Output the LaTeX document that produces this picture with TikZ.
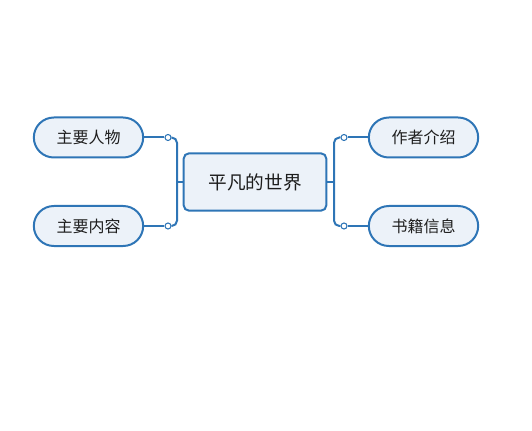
\documentclass[tikz,border=0pt]{standalone}
\usepackage{fontspec}
\newfontfamily\cjk{Noto Sans CJK SC}
\usetikzlibrary{positioning}
\definecolor{edge}{RGB}{46,117,182}
\definecolor{pale}{RGB}{236,242,249}
\definecolor{ink}{RGB}{30,30,30}
\tikzset{
  topic/.style={draw=edge,fill=pale,line width=1.5pt,rounded corners=4pt,
    minimum width=107pt,minimum height=43pt,text=ink,
    font=\cjk\fontsize{14}{16}\selectfont},
  leaf/.style={draw=edge,fill=pale,line width=1.5pt,rounded corners=15pt,
    minimum width=82pt,minimum height=30pt,text=ink,
    font=\cjk\fontsize{12}{14}\selectfont},
  link/.style={draw=edge,line width=1.5pt,rounded corners=4pt},
  knob/.style={circle,draw=edge,fill=white,line width=0.8pt,inner sep=0pt,
    minimum size=4.5pt},
}
\begin{document}
\begin{tikzpicture}[x=0.75pt,y=-0.75pt]
  \useasboundingbox (0,0) rectangle (532,431);
  % central topic
  \node[topic] (root) at (255,182) {平凡的世界};
  % left branch
  \node[leaf] (people) at (88.5,137.5) {主要人物};
  \node[leaf] (plot) at (88.5,226) {主要内容};
  \node[knob] (kpeople) at (168,137.5) {};
  \node[knob] (kplot) at (168,226) {};
  \coordinate (jleft) at (177,182);
  % right branch
  \node[leaf] (author) at (423.5,137.5) {作者介绍};
  \node[leaf] (book) at (423.5,226) {书籍信息};
  \node[knob] (kauthor) at (344,137.5) {};
  \node[knob] (kbook) at (344,226) {};
  \coordinate (jright) at (334,182);
  % connectors
  \draw[link] (people.east) -- (kpeople.west);
  \draw[link] (plot.east) -- (kplot.west);
  \draw[link] (kpeople.east) -| (jleft) |- (kplot.east);
  \draw[link] (jleft) -- (root.west);
  \draw[link] (author.west) -- (kauthor.east);
  \draw[link] (book.west) -- (kbook.east);
  \draw[link] (kauthor.west) -| (jright) |- (kbook.west);
  \draw[link] (jright) -- (root.east);
\end{tikzpicture}
\end{document}
